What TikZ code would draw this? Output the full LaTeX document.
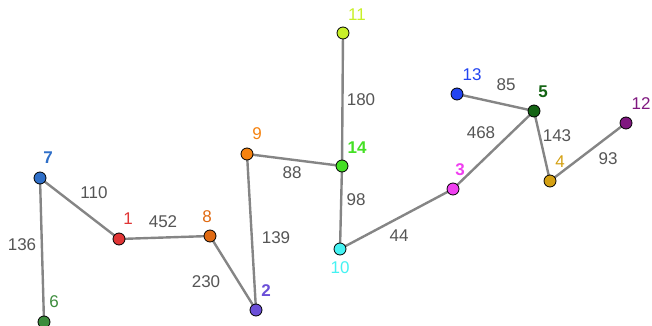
\documentclass[tikz,border=0pt]{standalone}
\usepackage{fontspec}
\setmainfont{Liberation Sans}
\usepackage{tikz}
\definecolor{c1}{HTML}{E03535}
\definecolor{c2}{HTML}{6B4FD8}
\definecolor{c3}{HTML}{F040F0}
\definecolor{c4}{HTML}{D4A012}
\definecolor{c5}{HTML}{146414}
\definecolor{c6}{HTML}{3C8C3C}
\definecolor{c7}{HTML}{2F6FC8}
\definecolor{c8}{HTML}{E06A12}
\definecolor{c9}{HTML}{F5820F}
\definecolor{c10}{HTML}{44F2F2}
\definecolor{c11}{HTML}{C8F028}
\definecolor{c12}{HTML}{801880}
\definecolor{c13}{HTML}{2244F0}
\definecolor{c14}{HTML}{44E024}
\definecolor{edgegray}{HTML}{858585}
\definecolor{wtgray}{HTML}{555555}

\begin{document}
\begin{tikzpicture}[x=1pt,y=-1pt]
	\tikzset{vtx/.style={circle,draw=black,line width=0.8pt,minimum size=12pt,inner sep=0pt}}
	\tikzset{lbln/.style={font=\fontsize{17}{17}\selectfont,inner sep=0pt}}
	\tikzset{lblb/.style={font=\fontsize{17}{17}\selectfont\bfseries,inner sep=0pt}}
	\tikzset{wt/.style={font=\fontsize{17}{17}\selectfont,text=wtgray,inner sep=0pt}}
	\tikzset{link/.style={draw=edgegray,line width=2.4pt}}
	\useasboundingbox (0,0) rectangle (652,326);
	% vertices: name / x / y
	\foreach \n/\x/\y in {7/40/178, 1/119/239, 8/210/236, 2/256/310, 6/44/322, 9/247/154,
		14/342/166, 11/343/33, 10/340/249, 3/453/189, 13/457/94, 5/534/111, 4/550/181, 12/626/123}
		\coordinate (p\n) at (\x,\y);
	% edges first, vertices on top
	\draw[link] (p7) -- node[wt,xshift=-20pt,yshift=5pt] {136} (p6);
	\draw[link] (p7) -- node[wt,xshift=14.5pt,yshift=15.5pt] {110} (p1);
	\draw[link] (p1) -- node[wt,xshift=-1.5pt,yshift=15.5pt] {452} (p8);
	\draw[link] (p8) -- node[wt,xshift=-27pt,yshift=-9pt] {230} (p2);
	\draw[link] (p2) -- node[wt,xshift=24.5pt,yshift=-6pt] {139} (p9);
	\draw[link] (p9) -- node[wt,xshift=-2.5pt,yshift=-13pt] {88} (p14);
	\draw[link] (p14) -- node[wt,xshift=18.5pt,yshift=-0.5pt] {180} (p11);
	\draw[link] (p14) -- node[wt,xshift=15pt,yshift=7.5pt] {98} (p10);
	\draw[link] (p10) -- node[wt,xshift=2.5pt,yshift=-17pt] {44} (p3);
	\draw[link] (p3) -- node[wt,xshift=-12.5pt,yshift=17pt] {468} (p5);
	\draw[link] (p13) -- node[wt,xshift=10.5pt,yshift=17.5pt] {85} (p5);
	\draw[link] (p5) -- node[wt,xshift=15pt,yshift=10pt] {143} (p4);
	\draw[link] (p4) -- node[wt,xshift=20pt,yshift=-7pt] {93} (p12);
	% label shift and weight per vertex
	\foreach \n/\dx/\dy/\f in {7/8/20/b, 1/9/20/n, 8/-3/19/n, 2/10/19/b, 6/10/20/n, 9/10/20/n,
		14/15/18/b, 11/14/18/n, 10/0/-19/n, 3/7/19/b, 13/15/19/n, 5/9/19/b, 4/10/19/n, 12/15/19/n}
		\node[vtx,fill=c\n,label={[lbl\f,text=c\n,xshift=\dx pt,yshift=\dy pt]center:\n}] (n\n) at (p\n) {};
\end{tikzpicture}
\end{document}
